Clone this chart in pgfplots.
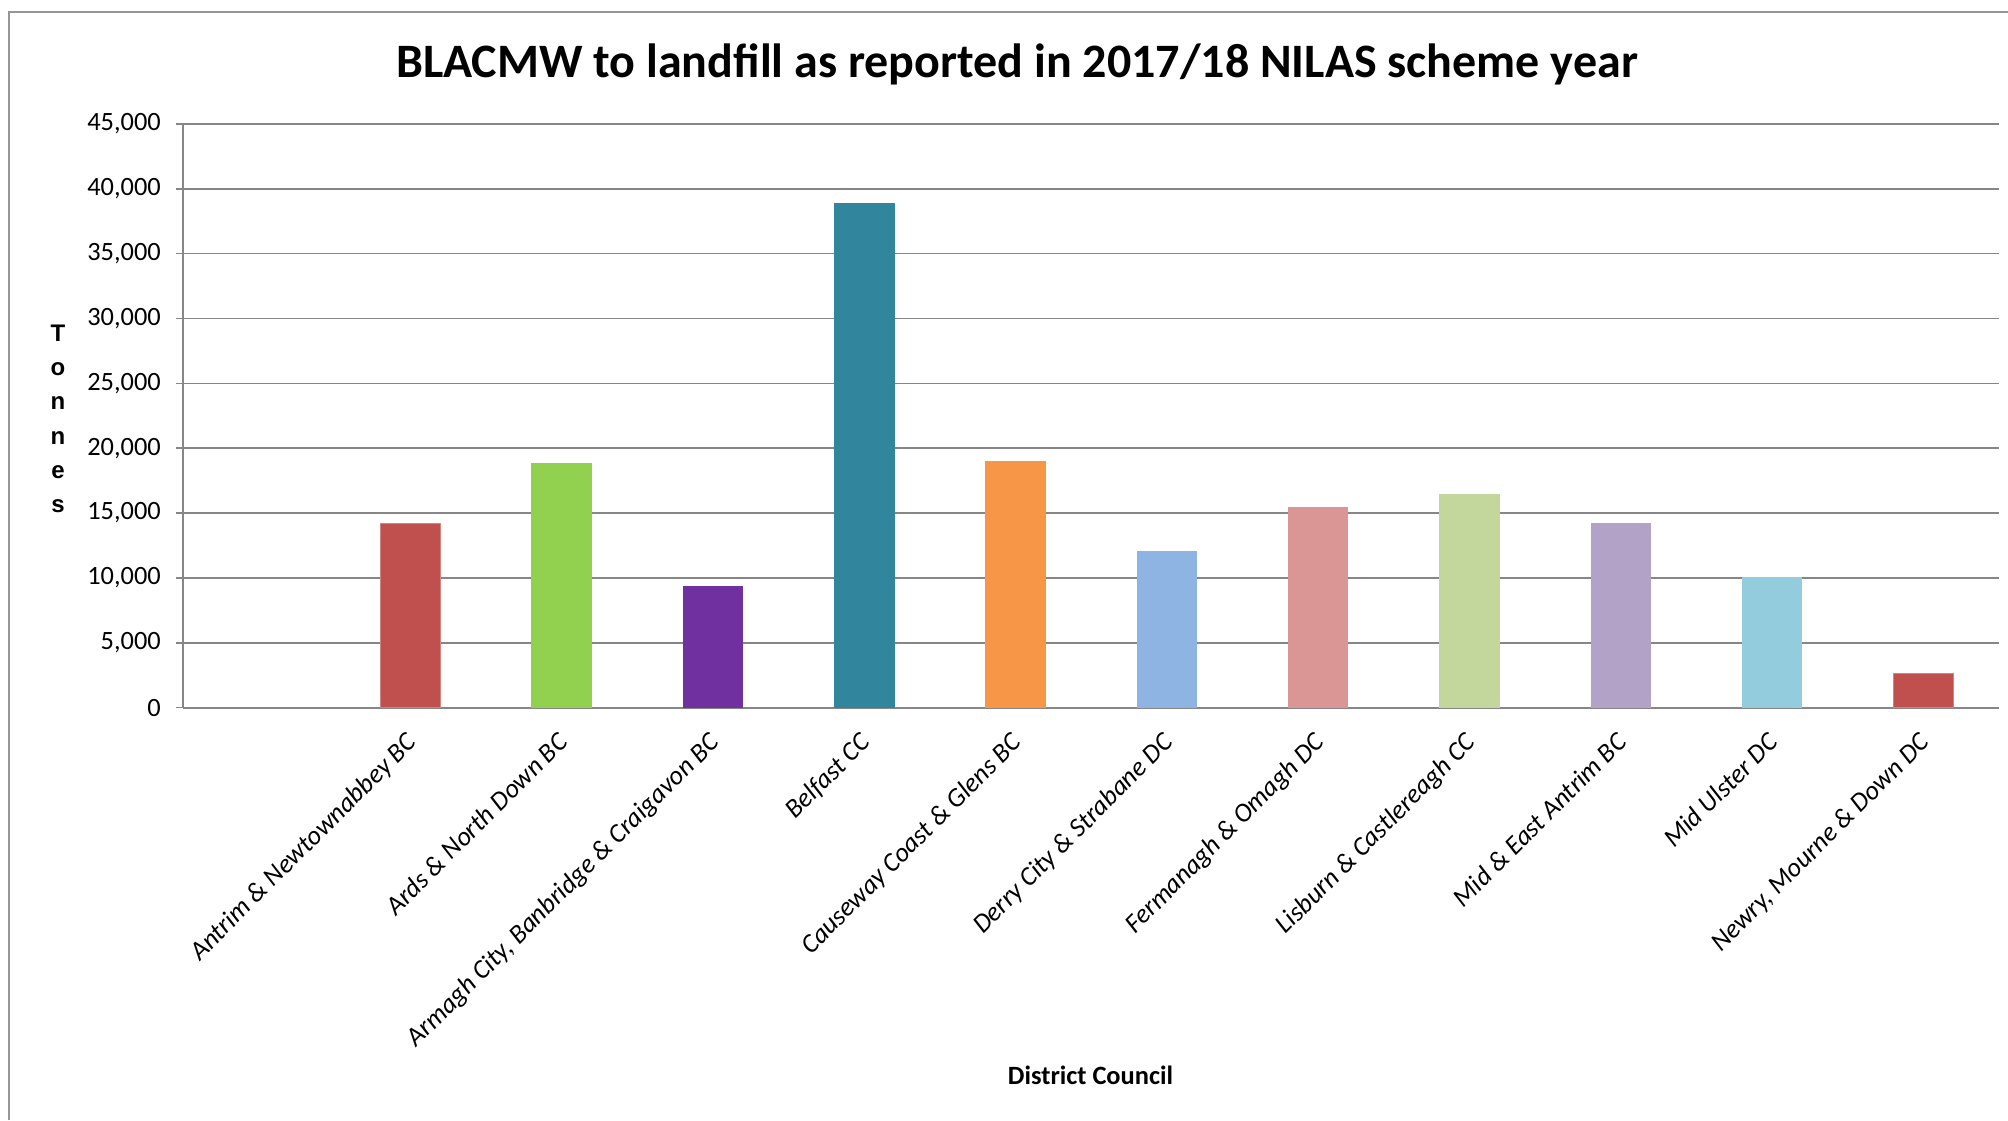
\documentclass[border=0pt]{standalone}
\usepackage{fontspec}
\setmainfont{Carlito}
\newfontfamily\arialfont{Liberation Sans}
\usepackage{pgfplots}
\pgfplotsset{compat=1.18}

\definecolor{gridgray}{RGB}{134,134,134}
\definecolor{framegray}{RGB}{150,150,150}
\definecolor{cAntrim}{HTML}{C0504D}
\definecolor{cArds}{HTML}{92D050}
\definecolor{cArmagh}{HTML}{7030A0}
\definecolor{cBelfast}{HTML}{31859C}
\definecolor{cCauseway}{HTML}{F79646}
\definecolor{cDerry}{HTML}{8EB4E3}
\definecolor{cFermanagh}{HTML}{D99694}
\definecolor{cLisburn}{HTML}{C3D69B}
\definecolor{cMidEast}{HTML}{B3A2C7}
\definecolor{cMidUlster}{HTML}{93CDDD}
\definecolor{cNewry}{HTML}{C0504D}

\begin{document}
\begin{tikzpicture}
\begin{axis}[
  at={(0pt,0pt)}, anchor=south west,
  scale only axis,
  width=907.75pt, height=291.9pt,
  ybar, bar width=0.4,
  xmin=0.5, xmax=12.5,
  ymin=0, ymax=45000,
  ytick distance=5000,
  xtick={2,...,12},
  xticklabels={Antrim \& Newtownabbey BC, Ards \& North Down BC,
    {Armagh City, Banbridge \& Craigavon BC}, Belfast CC,
    Causeway Coast \& Glens BC, Derry City \& Strabane DC,
    Fermanagh \& Omagh DC, Lisburn \& Castlereagh CC,
    Mid \& East Antrim BC, Mid Ulster DC, {Newry, Mourne \& Down DC}},
  axis x line=bottom, axis y line=left,
  axis line style={-, gridgray, line width=1pt},
  ymajorgrids, major grid style={gridgray, line width=0.75pt},
  tick align=outside, major tick length=3.8pt,
  xtick style={draw=none},
  ytick style={gridgray, line width=0.75pt},
  scaled y ticks=false,
  /pgf/number format/1000 sep={,},
  /pgf/number format/assume math mode=true,
  yticklabel style={font=\fontsize{13.2}{15}\selectfont, xshift=-4pt},
  xticklabel style={font=\fontsize{13.3}{15}\selectfont\itshape,
    xshift=-2.9pt, yshift=-2.8pt, rotate=45, anchor=north east},
]
\addplot[fill=cAntrim, draw=cAntrim!70!white, line width=0.5pt, bar shift=0pt] coordinates {(2,14220)};
\addplot[fill=cArds, draw=none, bar shift=0pt] coordinates {(3,18870)};
\addplot[fill=cArmagh, draw=none, bar shift=0pt] coordinates {(4,9380)};
\addplot[fill=cBelfast, draw=none, bar shift=0pt] coordinates {(5,38910)};
\addplot[fill=cCauseway, draw=none, bar shift=0pt] coordinates {(6,19020)};
\addplot[fill=cDerry, draw=none, bar shift=0pt] coordinates {(7,12080)};
\addplot[fill=cFermanagh, draw=none, bar shift=0pt] coordinates {(8,15470)};
\addplot[fill=cLisburn, draw=none, bar shift=0pt] coordinates {(9,16480)};
\addplot[fill=cMidEast, draw=none, bar shift=0pt] coordinates {(10,14240)};
\addplot[fill=cMidUlster, draw=none, bar shift=0pt] coordinates {(11,10050)};
\addplot[fill=cNewry, draw=cNewry!70!white, line width=0.5pt, bar shift=0pt] coordinates {(12,2600)};
\end{axis}

% outer chart frame (only left and top edges are in view)
\draw[framegray, line width=1pt] (-87.4pt,-206.15pt) -- (-87.4pt,347.85pt) -- (912.25pt,347.85pt);

\node[font=\fontsize{24}{28}\selectfont\bfseries, anchor=base] at (416.75pt,314.85pt)
  {BLACMW to landfill as reported in 2017/18 NILAS scheme year};
\node[font=\fontsize{13.2}{15}\selectfont\bfseries, anchor=base] at (453.5pt,-188.15pt)
  {District Council};
\node[font=\arialfont\fontsize{12}{17.15}\selectfont\bfseries, align=center] at (-62.75pt,144.35pt)
  {T\\o\\n\\n\\e\\s};

\pgfresetboundingbox
\path[use as bounding box] (-91.75pt,-206.15pt) rectangle (912.25pt,353.85pt);
\end{tikzpicture}
\end{document}
